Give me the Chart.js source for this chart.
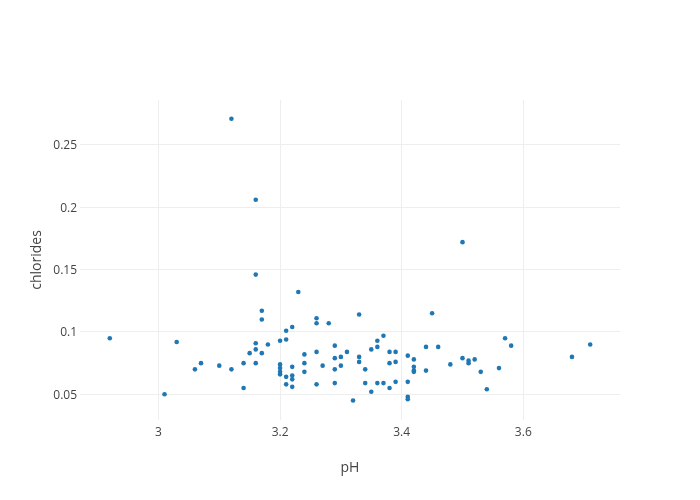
<!DOCTYPE html>
<html lang="en">
<head>
    <meta charset="UTF-8" />
    <title>chlorides vs pH</title>
    <style>
        html, body {
            margin: 0;
            padding: 0;
            background: #fff;
        }
        #chart-container {
            width: 700px;
            height: 500px;
        }
    </style>
    <script src="https://cdn.jsdelivr.net/npm/chart.js"></script>
</head>
<body>
<div id="chart-container">
    <canvas id="scatterChart" width="700" height="500"></canvas>
</div>

<script>
  const phValues = [
    2.92, 3.01, 3.03, 3.06, 3.07, 3.10, 3.12, 3.12, 3.14, 3.14,
    3.15, 3.16, 3.16, 3.16, 3.16, 3.16, 3.17, 3.17, 3.17, 3.18,
    3.20, 3.20, 3.20, 3.20, 3.20, 3.21, 3.21, 3.21, 3.21, 3.22,
    3.22, 3.22, 3.22, 3.22, 3.23, 3.24, 3.24, 3.24, 3.26, 3.26,
    3.26, 3.26, 3.27, 3.28, 3.29, 3.29, 3.29, 3.29, 3.30, 3.30,
    3.31, 3.32, 3.33, 3.33, 3.33, 3.34, 3.34, 3.35, 3.35, 3.36,
    3.36, 3.36, 3.37, 3.37, 3.38, 3.38, 3.38, 3.39, 3.39, 3.39,
    3.41, 3.41, 3.41, 3.41, 3.42, 3.42, 3.42, 3.42, 3.44, 3.44,
    3.45, 3.46, 3.48, 3.50, 3.50, 3.51, 3.51, 3.52, 3.53, 3.54,
    3.56, 3.57, 3.58, 3.68, 3.71
  ];
  const chlorideValues = [
    0.095, 0.050, 0.092, 0.070, 0.075, 0.073, 0.070, 0.271, 0.075, 0.055,
    0.083, 0.091, 0.086, 0.075, 0.206, 0.146, 0.117, 0.110, 0.083, 0.090,
    0.093, 0.074, 0.071, 0.068, 0.066, 0.101, 0.094, 0.064, 0.058, 0.104,
    0.072, 0.065, 0.062, 0.056, 0.132, 0.082, 0.075, 0.068, 0.111, 0.107,
    0.084, 0.058, 0.073, 0.107, 0.089, 0.079, 0.070, 0.059, 0.080, 0.073,
    0.084, 0.045, 0.114, 0.080, 0.076, 0.070, 0.059, 0.086, 0.052, 0.093,
    0.088, 0.059, 0.097, 0.059, 0.084, 0.075, 0.055, 0.084, 0.076, 0.060,
    0.081, 0.060, 0.048, 0.046, 0.078, 0.072, 0.069, 0.068, 0.088, 0.069,
    0.115, 0.088, 0.074, 0.079, 0.172, 0.077, 0.075, 0.078, 0.068, 0.054,
    0.071, 0.095, 0.089, 0.080, 0.090
  ];
  const xTicks = [3, 3.2, 3.4, 3.6];
  const xTickLabels = ["3", "3.2", "3.4", "3.6"];
  const yTicks = [0.05, 0.1, 0.15, 0.2, 0.25];
  const yTickLabels = ["0.05", "0.1", "0.15", "0.2", "0.25"];

  const points = phValues.map((x, i) => ({ x: x, y: chlorideValues[i] }));

  Chart.defaults.font.family = "'Open Sans', sans-serif";
  Chart.defaults.color = "#444";

  const ctx = document.getElementById("scatterChart").getContext("2d");
  new Chart(ctx, {
    type: "scatter",
    data: {
      datasets: [
        {
          label: "chlorides",
          data: points,
          backgroundColor: "rgb(31, 119, 180)",
          borderWidth: 0,
          pointRadius: 2.3,
        },
      ],
    },
    options: {
      responsive: false,
      animation: false,
      layout: {
        padding: { top: 100, right: 80, left: 0, bottom: 0 },
      },
      scales: {
        x: {
          type: "linear",
          min: 2.871,
          max: 3.759,
          afterFit: function (scale) {
            scale.height = 80;
          },
          afterBuildTicks: function (scale) {
            scale.ticks = xTicks.map((v) => ({ value: v }));
          },
          ticks: {
            padding: 5,
            font: { size: 12 },
            callback: function (value) {
              const idx = xTicks.indexOf(value);
              return idx >= 0 ? xTickLabels[idx] : "";
            },
          },
          grid: {
            color: "#eee",
            drawTicks: false,
          },
          border: { display: false },
          title: {
            display: true,
            text: "pH",
            font: { size: 14 },
            padding: { top: 4, bottom: 24 },
          },
        },
        y: {
          type: "linear",
          min: 0.0294,
          max: 0.286,
          afterFit: function (scale) {
            scale.width = 80;
          },
          afterBuildTicks: function (scale) {
            scale.ticks = yTicks.map((v) => ({ value: v }));
          },
          ticks: {
            padding: 3,
            labelOffset: 1,
            font: { size: 12 },
            callback: function (value) {
              const idx = yTicks.indexOf(value);
              return idx >= 0 ? yTickLabels[idx] : "";
            },
          },
          grid: {
            color: "#eee",
            drawTicks: false,
          },
          border: { display: false },
          title: {
            display: true,
            text: "chlorides",
            font: { size: 14 },
            padding: { top: 29 },
          },
        },
      },
      plugins: {
        legend: { display: false },
        tooltip: { enabled: false },
      },
    },
  });
</script>
</body>
</html>
